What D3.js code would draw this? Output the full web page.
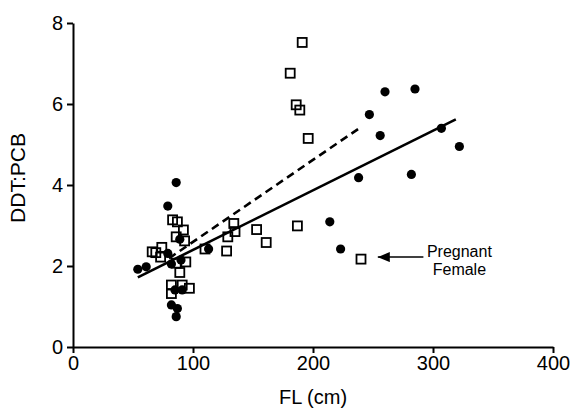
<!DOCTYPE html>
<html>
<head>
<meta charset="utf-8">
<script src="https://cdn.jsdelivr.net/npm/d3@7"></script>
<style>
  body { margin: 0; background: #fff; }
  svg { display: block; font-family: "Liberation Sans", Arial, Helvetica, sans-serif; }
</style>
</head>
<body>
<div id="chart"></div>
<script>
'use strict';

// FL (cm), DDT:PCB
const filledFL  = [54, 61, 86, 79, 89, 79, 90, 82, 85, 91, 82, 87, 86, 113, 214, 223, 260, 285, 247, 256, 307, 322, 238, 282];
const filledVal = [1.92, 1.98, 4.06, 3.48, 2.66, 2.31, 2.15, 2.05, 1.41, 1.41, 1.04, 0.95, 0.75, 2.42, 3.09, 2.42, 6.30, 6.37, 5.74, 5.22, 5.40, 4.95, 4.18, 4.26];

const openFL  = [83, 87, 92, 86, 93, 74, 66, 69, 73, 86, 94, 89, 82, 91, 82, 97, 110, 128, 129, 134, 135, 153, 161, 187, 181, 186, 189, 191, 196, 240];
const openVal = [3.14, 3.09, 2.89, 2.72, 2.62, 2.46, 2.35, 2.33, 2.22, 2.07, 2.10, 1.84, 1.53, 1.53, 1.32, 1.45, 2.42, 2.37, 2.72, 3.05, 2.85, 2.90, 2.58, 2.99, 6.76, 5.98, 5.85, 7.52, 5.15, 2.17];

// regression line end points
const solidFit  = [[54, 1.72], [319, 5.62]];
const dashedFit = [[80, 2.19], [239, 5.41]];

const xTicks = [0, 100, 200, 300, 400];
const yTicks = [0, 2, 4, 6, 8];

const note = { tip: [254, 2.22], tail: [292, 2.22], text: [322, 2.22], lines: ['Pregnant', 'Female'] };

const width = 580, height = 410;
const margin = { top: 23, right: 27, bottom: 63, left: 73 };

const svg = d3.select('#chart').append('svg')
    .attr('width', width)
    .attr('height', height);

const x = d3.scaleLinear()
    .domain([0, 400])
    .range([margin.left, width - margin.right]);

const y = d3.scaleLinear()
    .domain([0, 8])
    .range([height - margin.bottom, margin.top]);

// axes
const xAxis = svg.append('g')
    .attr('transform', `translate(0, ${y(0)})`)
    .call(d3.axisBottom(x).tickValues(xTicks).tickSize(6).tickSizeOuter(0).tickPadding(3));

const yAxis = svg.append('g')
    .attr('transform', `translate(${x(0)}, 0)`)
    .call(d3.axisLeft(y).tickValues(yTicks).tickSize(6).tickSizeOuter(0).tickPadding(4));

[xAxis, yAxis].forEach(g => {
  g.selectAll('path, line').attr('stroke', '#000').attr('stroke-width', 2);
  g.selectAll('text').attr('fill', '#000').style('font-size', '20px');
});

svg.append('text')
    .attr('x', (x(0) + x(400)) / 2)
    .attr('y', 404)
    .attr('text-anchor', 'middle')
    .style('font-size', '20px')
    .text('FL (cm)');

svg.append('text')
    .attr('transform', `translate(25, ${(y(0) + y(8)) / 2 - 7}) rotate(-90)`)
    .attr('text-anchor', 'middle')
    .style('font-size', '21px')
    .text('DDT:PCB');

// points
const filled = filledFL.map((d, i) => ({ fl: d, v: filledVal[i] }));
const open = openFL.map((d, i) => ({ fl: d, v: openVal[i] }));

svg.selectAll('.dot')
    .data(filled)
  .enter().append('circle')
    .attr('class', 'dot')
    .attr('cx', d => x(d.fl))
    .attr('cy', d => y(d.v))
    .attr('r', 4.6)
    .attr('fill', '#000');

const side = 9;
svg.selectAll('.sq')
    .data(open)
  .enter().append('rect')
    .attr('class', 'sq')
    .attr('x', d => x(d.fl) - side / 2)
    .attr('y', d => y(d.v) - side / 2)
    .attr('width', side)
    .attr('height', side)
    .attr('fill', 'none')
    .attr('stroke', '#000')
    .attr('stroke-width', 1.8);

// fits
const line = d3.line().x(d => x(d[0])).y(d => y(d[1]));

svg.append('path')
    .attr('d', line(solidFit))
    .attr('fill', 'none')
    .attr('stroke', '#000')
    .attr('stroke-width', 2.6);

svg.append('path')
    .attr('d', line(dashedFit))
    .attr('fill', 'none')
    .attr('stroke', '#000')
    .attr('stroke-width', 2.6)
    .attr('stroke-dasharray', '8,5');

// annotation
svg.append('defs').append('marker')
    .attr('id', 'head')
    .attr('viewBox', '0 0 12 10')
    .attr('refX', 12)
    .attr('refY', 5)
    .attr('markerWidth', 12)
    .attr('markerHeight', 10)
    .attr('markerUnits', 'userSpaceOnUse')
    .attr('orient', 'auto')
  .append('path')
    .attr('d', 'M0,5 L12,0 L12,10 Z')
    .attr('transform', 'rotate(180 6 5)')
    .attr('fill', '#000');

svg.append('line')
    .attr('x1', x(note.tail[0]))
    .attr('y1', y(note.tail[1]))
    .attr('x2', x(note.tip[0]))
    .attr('y2', y(note.tip[1]))
    .attr('stroke', '#000')
    .attr('stroke-width', 1.5)
    .attr('marker-end', 'url(#head)');

svg.append('text')
    .attr('x', x(note.text[0]))
    .attr('y', y(note.text[1]))
    .attr('text-anchor', 'middle')
    .style('font-size', '16px')
  .selectAll('tspan')
    .data(note.lines)
  .enter().append('tspan')
    .attr('x', x(note.text[0]))
    .attr('dy', (d, i) => i === 0 ? '0' : '1.1em')
    .text(d => d);
</script>
</body>
</html>
